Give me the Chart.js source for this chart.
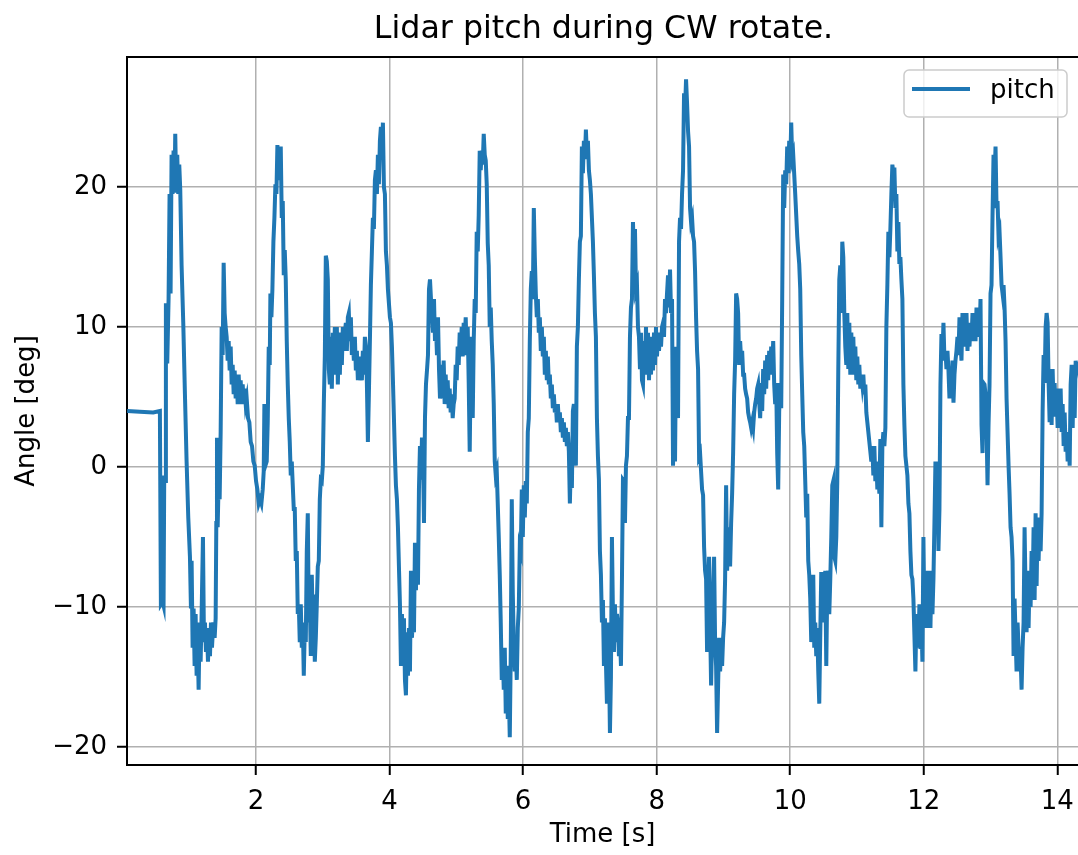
<!DOCTYPE html>
<html>
<head>
    <title>Lidar pitch during CW rotate.</title>
    <script src="https://cdn.jsdelivr.net/npm/chart.js"></script>
    <style>
        body { margin: 0; background: #fff; }
        canvas { display: block; }
    </style>
</head>
<body>
    <canvas id="pitchChart" width="1078" height="855" style="width:1078px;height:855px;"></canvas>

    <script>
        // pitch trace, split into chunks of the run (time in s, angle in deg)
        const timeA = [
            0.07, 0.26, 0.46, 0.56, 0.575, 0.60, 0.615, 0.625, 0.64, 0.65,
            0.67, 0.69, 0.705, 0.72, 0.735, 0.75, 0.765, 0.78, 0.79, 0.805,
            0.82, 0.835, 0.85, 0.865, 0.885, 0.91, 0.935, 0.96, 0.985, 1.01,
            1.025, 1.035, 1.05, 1.065, 1.08, 1.095, 1.11, 1.125, 1.14, 1.155,
            1.17, 1.185, 1.205, 1.22, 1.235, 1.25, 1.265, 1.28, 1.295, 1.31,
            1.325, 1.34, 1.36, 1.38, 1.395, 1.405, 1.415, 1.425, 1.44, 1.455,
            1.47, 1.485, 1.50, 1.515, 1.53, 1.545, 1.56, 1.575, 1.59, 1.605,
            1.62, 1.635, 1.65, 1.665, 1.68, 1.695, 1.71, 1.725, 1.74, 1.755,
            1.77, 1.785, 1.80, 1.815, 1.83, 1.845, 1.86, 1.88, 1.90, 1.92,
            1.94, 1.96, 1.98, 2.00, 2.02, 2.04, 2.06, 2.08, 2.10, 2.115,
            2.125, 2.14, 2.16, 2.175, 2.19, 2.205, 2.215, 2.23, 2.245, 2.26,
            2.275, 2.29, 2.305, 2.32, 2.335, 2.35
        ];
        const pitchA = [
            4.0, 3.95, 3.9, 4.0, -9.8, -9.6, -9.9, -0.6, -1.0, 11.7,
            7.4, 12.0, 19.5, 12.4, 22.3, 19.5, 22.6, 20.2, 23.8, 19.6,
            22.3, 19.5, 21.6, 19.8, 14.4, 10.3, 5.2, 0.4, -3.6, -6.4,
            -10.1, -6.7, -12.9, -10.1, -14.2, -10.5, -14.9, -12.2, -15.9, -11.1,
            -13.9, -10.5, -5.0, -12.5, -11.1, -13.2, -11.5, -13.9, -11.8, -13.5,
            -11.1, -12.9, -11.1, -12.2, -10.8, -4.0, 2.1, -4.3, -1.0, -2.3,
            2.5, 10.0, 8.0, 14.6, 11.0, 10.0, 9.3, 7.6, 9.0, 6.9,
            8.6, 5.9, 7.3, 5.2, 6.9, 4.9, 6.6, 4.5, 6.6, 4.9,
            6.2, 4.5, 5.9, 4.5, 5.6, 4.5, 4.9, 3.5, 3.2, 1.8,
            1.5, 0.4, 0.1, -1.0, -1.6, -2.6, -2.3, -2.6, -1.6, -0.3,
            4.5, 0.1, 0.4, 3.2, 8.6, 7.3, 12.4, 10.7, 12.7, 16.1,
            17.8, 20.2, 19.5, 23.0, 20.5, 21.0
        ];

        const timeB = [
            2.370, 2.385, 2.400, 2.415, 2.430, 2.445, 2.460, 2.475, 2.490, 2.505,
            2.520, 2.535, 2.550, 2.565, 2.580, 2.595, 2.610, 2.625, 2.640, 2.655,
            2.670, 2.685, 2.700, 2.715, 2.730, 2.745, 2.760, 2.775, 2.790, 2.805,
            2.820, 2.835, 2.850, 2.865, 2.880, 2.895, 2.910, 2.925, 2.940, 2.955,
            2.970, 2.985, 3.000, 3.015, 3.030, 3.045, 3.060, 3.075, 3.090, 3.105,
            3.120, 3.135, 3.150, 3.165, 3.180, 3.195, 3.210, 3.225, 3.240, 3.255,
            3.270, 3.285, 3.300, 3.315, 3.330, 3.345, 3.360, 3.375, 3.390, 3.405,
            3.420, 3.435, 3.450, 3.465, 3.480, 3.495, 3.510, 3.525, 3.540, 3.555,
            3.570, 3.585, 3.600, 3.615, 3.630, 3.645, 3.660, 3.675, 3.690, 3.705,
            3.720, 3.735, 3.750, 3.765, 3.780, 3.795, 3.810, 3.825, 3.840, 3.855,
            3.870, 3.885, 3.900, 3.915, 3.930, 3.945, 3.960, 3.975, 3.990, 4.005,
            4.020, 4.035, 4.050, 4.065, 4.080, 4.095, 4.110, 4.125, 4.140, 4.155,
            4.170, 4.185, 4.200, 4.215, 4.230, 4.245, 4.260, 4.275, 4.290, 4.305,
            4.320, 4.335, 4.350, 4.365, 4.380, 4.395, 4.410, 4.425, 4.440, 4.455,
            4.470, 4.485, 4.500, 4.515, 4.530, 4.545, 4.560, 4.575, 4.590, 4.605,
            4.620, 4.635, 4.650, 4.665, 4.680, 4.695, 4.710, 4.725, 4.740, 4.755
        ];
        const pitchB = [
            22.9, 17.8, 19.0, 13.7, 15.5, 13.4, 9.0, 5.9, 3.5, 1.8,
            -0.6, 0.4, -1.3, -3.0, -3.0, -6.7, -6.0, -10.5, -9.8, -12.5,
            -9.8, -12.9, -11.1, -14.9, -11.5, -12.5, -6.0, -3.3, -11.1, -9.4,
            -13.5, -7.7, -11.5, -9.1, -13.9, -12.2, -9.8, -7.1, -6.7, -2.3,
            -0.9, -1.0, 0.1, 4.5, 7.9, 15.1, 14.7, 13.4, 7.0, 5.9,
            9.3, 5.6, 9.6, 6.6, 10.0, 6.6, 10.0, 5.9, 9.3, 6.6,
            9.6, 7.3, 10.0, 8.3, 9.6, 10.3, 8.3, 10.7, 11.0, 9.0,
            10.7, 8.0, 9.0, 7.6, 9.3, 6.9, 8.3, 6.2, 7.9, 6.2,
            7.3, 6.2, 8.3, 6.6, 9.3, 8.6, 6.0, 1.8, 5.2, 9.0,
            13.0, 15.4, 17.8, 17.0, 20.5, 21.2, 19.5, 22.3, 20.2, 23.3,
            24.3, 22.0, 24.6, 20.0, 19.5, 15.4, 14.4, 12.7, 11.7, 10.7,
            10.3, 8.6, 6.2, 3.5, 0.8, -1.3, -2.3, -4.3, -7.1, -9.8,
            -14.2, -10.5, -13.2, -10.8, -15.2, -16.3, -11.8, -14.9, -11.5, -14.6,
            -7.4, -12.2, -10.5, -11.8, -5.4, -8.8, -5.4, -8.4, -1.5, 1.5,
            -0.9, 2.1, 1.0, -4.0, 3.5, 5.9, 6.9, 8.0, 12.7, 13.4,
            12.0, 11.0, 9.6, 12.0, 9.0, 10.0, 8.0, 10.7, 7.0, 4.9
        ];

        const timeC = [
            4.765, 4.780, 4.795, 4.810, 4.825, 4.840, 4.855, 4.870, 4.885, 4.900,
            4.915, 4.930, 4.945, 4.960, 4.975, 4.990, 5.005, 5.020, 5.035, 5.050,
            5.065, 5.080, 5.095, 5.110, 5.125, 5.140, 5.155, 5.170, 5.185, 5.200,
            5.215, 5.230, 5.245, 5.260, 5.275, 5.290, 5.305, 5.320, 5.335, 5.350,
            5.365, 5.380, 5.395, 5.410, 5.425, 5.440, 5.455, 5.470, 5.485, 5.500,
            5.515, 5.530, 5.545, 5.560, 5.575, 5.590, 5.605, 5.620, 5.635, 5.650,
            5.665, 5.680, 5.695, 5.710, 5.725, 5.740, 5.755, 5.770, 5.785, 5.800,
            5.815, 5.830, 5.845, 5.860, 5.875, 5.890, 5.905, 5.920, 5.935, 5.950,
            5.965, 5.980, 5.995, 6.010, 6.025, 6.040, 6.055, 6.070, 6.085, 6.100,
            6.115, 6.130, 6.145, 6.160, 6.175, 6.190, 6.205, 6.220, 6.235, 6.250,
            6.265, 6.280, 6.295, 6.310, 6.325, 6.340, 6.355, 6.370, 6.385, 6.400,
            6.415, 6.430, 6.445, 6.460, 6.475, 6.490, 6.505, 6.520, 6.535, 6.550,
            6.565, 6.580, 6.595, 6.610, 6.625, 6.640, 6.655, 6.670, 6.685, 6.700,
            6.715, 6.730, 6.745, 6.760, 6.775, 6.790, 6.805, 6.820, 6.835, 6.850,
            6.865, 6.880, 6.895, 6.910, 6.925, 6.940, 6.955, 6.970, 6.985, 7.000,
            7.015, 7.030, 7.045, 7.060, 7.075, 7.090, 7.105, 7.120, 7.135
        ];
        const pitchC = [
            5.2, 7.3, 4.9, 7.6, 4.5, 6.6, 4.5, 6.2, 4.2, 5.6,
            3.9, 5.2, 3.5, 4.5, 4.9, 7.3, 6.2, 8.6, 7.3, 9.6,
            8.3, 10.0, 7.9, 10.3, 9.0, 10.7, 8.0, 10.0, 6.0, 1.1,
            7.3, 9.3, 3.5, 9.0, 12.0, 11.0, 16.8, 15.4, 18.0, 22.6,
            21.2, 22.6, 21.6, 23.8, 22.3, 21.9, 20.2, 16.0, 14.4, 10.0,
            11.4, 9.0, 7.3, 4.5, 0.4, -0.6, -0.3, -2.6, -5.0, -7.7,
            -11.1, -15.2, -13.2, -15.9, -12.9, -17.6, -14.2, -18.0, -16.0, -19.3,
            -13.2, -2.3, -9.0, -12.5, -14.6, -13.2, -15.2, -11.5, -10.1, -5.7,
            -6.0, -1.6, -5.0, -1.3, -3.6, -1.0, -2.6, 2.5, 3.5, 9.0,
            12.7, 14.0, 12.0, 18.5, 15.0, 12.4, 10.7, 12.0, 9.6, 10.7,
            8.3, 10.0, 7.9, 9.3, 6.6, 8.3, 6.2, 7.9, 5.9, 6.6,
            4.9, 5.9, 4.2, 5.2, 3.9, 4.5, 3.2, 4.5, 3.2, 3.9,
            2.5, 3.5, 2.1, 3.2, 1.8, 2.8, 1.5, 2.5, 1.1, -2.6,
            0.4, -1.5, 4.0, 4.5, 1.5, 0.1, 8.6, 10.0, 13.4, 16.1,
            16.5, 22.9, 21.0, 23.3, 22.0, 24.1, 22.3, 23.3, 21.2, 20.5,
            19.5, 17.8, 16.1, 13.7, 11.0, 9.3, 3.5, 0.8, -0.9
        ];

        const timeD = [
            7.150, 7.165, 7.180, 7.195, 7.210, 7.225, 7.240, 7.255, 7.270, 7.285,
            7.300, 7.315, 7.330, 7.345, 7.360, 7.375, 7.390, 7.405, 7.420, 7.435,
            7.450, 7.465, 7.480, 7.495, 7.510, 7.525, 7.540, 7.555, 7.570, 7.585,
            7.600, 7.615, 7.630, 7.645, 7.660, 7.675, 7.690, 7.705, 7.720, 7.735,
            7.750, 7.765, 7.780, 7.795, 7.810, 7.825, 7.840, 7.855, 7.870, 7.885,
            7.900, 7.915, 7.930, 7.945, 7.960, 7.975, 7.990, 8.005, 8.020, 8.035,
            8.050, 8.065, 8.080, 8.095, 8.110, 8.125, 8.140, 8.155, 8.170, 8.185,
            8.200, 8.215, 8.230, 8.245, 8.260, 8.275, 8.290, 8.305, 8.320, 8.335,
            8.350, 8.365, 8.380, 8.395, 8.410, 8.425, 8.440, 8.455, 8.470, 8.485,
            8.500, 8.515, 8.530, 8.545, 8.560, 8.575, 8.590, 8.605, 8.620, 8.635,
            8.650, 8.665, 8.680, 8.695, 8.710, 8.725, 8.740, 8.755, 8.770, 8.785,
            8.800, 8.815, 8.830, 8.845, 8.860, 8.875, 8.890, 8.905, 8.920, 8.935,
            8.950, 8.965, 8.980, 8.995, 9.010, 9.025, 9.040, 9.055, 9.070, 9.085,
            9.100, 9.115, 9.130, 9.145, 9.160, 9.175, 9.190, 9.205, 9.220, 9.235,
            9.250, 9.265, 9.280, 9.295, 9.310, 9.325, 9.340, 9.355, 9.370, 9.385,
            9.400, 9.415, 9.430, 9.445, 9.460, 9.475, 9.490, 9.505, 9.520
        ];
        const pitchD = [
            -6.0, -7.7, -11.1, -9.5, -14.2, -10.8, -13.9, -16.9, -11.1, -13.5,
            -19.0, -15.0, -5.0, -10.5, -13.2, -9.8, -12.5, -10.5, -11.1, -13.5,
            -11.8, -14.2, -8.0, -0.9, -1.0, -4.0, 0.1, 0.8, 3.5, 3.5,
            9.3, 11.4, 12.0, 17.5, 15.0, 17.0, 12.7, 13.0, 10.0, 9.3,
            7.0, 9.6, 6.2, 5.9, 9.0, 6.6, 10.0, 6.9, 9.6, 6.2,
            9.3, 6.6, 9.0, 6.9, 9.6, 7.3, 10.0, 7.9, 9.6, 8.3,
            9.6, 8.6, 10.0, 10.3, 9.3, 12.0, 11.0, 12.4, 13.7, 11.4,
            14.1, 11.0, 12.0, 0.1, 4.0, 0.4, 8.6, 5.0, 3.5, 16.1,
            17.8, 17.0, 19.5, 21.2, 26.7, 25.5, 27.7, 26.0, 24.0, 22.9,
            18.5, 17.5, 17.8, 16.5, 16.1, 14.0, 10.7, 8.3, 7.0, 0.8,
            1.0, -0.3, -1.6, -2.0, -5.7, -7.4, -8.0, -13.2, -9.5, -6.4,
            -11.1, -15.6, -12.2, -9.4, -6.4, -12.5, -14.2, -19.0, -15.6, -12.2,
            -14.6, -12.9, -14.2, -12.2, -11.1, -8.0, -1.3, -7.4, -5.4, -4.3,
            -7.1, -4.0, -1.9, 1.0, 5.2, 7.6, 12.4, 12.0, 11.0, 7.3,
            9.0, 7.6, 8.3, 6.6, 6.6, 5.6, 5.2, 4.9, 3.9, 3.5,
            3.2, 2.8, 3.2, 2.8, 3.9, 4.5, 4.9, 5.6, 5.9
        ];

        const timeE = [
            9.550, 9.565, 9.580, 9.595, 9.610, 9.625, 9.640, 9.655, 9.670, 9.685,
            9.700, 9.715, 9.730, 9.745, 9.760, 9.775, 9.790, 9.805, 9.820, 9.835,
            9.850, 9.865, 9.880, 9.895, 9.910, 9.925, 9.940, 9.955, 9.970, 9.985,
            10.000, 10.015, 10.030, 10.045, 10.060, 10.075, 10.090, 10.105, 10.120, 10.135,
            10.150, 10.165, 10.180, 10.195, 10.210, 10.225, 10.240, 10.255, 10.270, 10.285,
            10.300, 10.315, 10.330, 10.345, 10.360, 10.375, 10.390, 10.405, 10.420, 10.435,
            10.450, 10.465, 10.480, 10.495, 10.510, 10.525, 10.540, 10.555, 10.570, 10.585,
            10.600, 10.615, 10.630, 10.645, 10.660, 10.675, 10.690, 10.705, 10.720, 10.735,
            10.750, 10.765, 10.780, 10.795, 10.810, 10.825, 10.840, 10.855, 10.870, 10.885,
            10.900, 10.915, 10.930, 10.945, 10.960, 10.975, 10.990, 11.005, 11.020, 11.035,
            11.050, 11.065, 11.080, 11.095, 11.110, 11.125, 11.140, 11.155, 11.170, 11.185,
            11.200, 11.215, 11.230, 11.245, 11.260, 11.275, 11.290, 11.305, 11.320, 11.335,
            11.350, 11.365, 11.380, 11.395, 11.410, 11.425, 11.440, 11.455, 11.470, 11.485,
            11.500, 11.515, 11.530, 11.545, 11.560, 11.575, 11.590, 11.605, 11.620, 11.635,
            11.650, 11.665, 11.680, 11.695, 11.710, 11.725, 11.740, 11.755, 11.770, 11.785,
            11.800, 11.815, 11.830, 11.845, 11.860, 11.875, 11.890, 11.905, 11.920
        ];
        const pitchE = [
            3.5, 6.0, 4.0, 7.0, 5.2, 7.6, 5.6, 8.0, 6.2, 8.3,
            6.6, 8.6, 7.0, 9.0, 5.9, 4.5, 6.0, 1.0, -1.6, 4.0,
            6.0, 4.2, 12.0, 20.9, 18.5, 21.2, 20.2, 22.9, 21.0, 23.3,
            21.6, 24.6, 22.0, 22.3, 20.9, 19.5, 18.0, 16.5, 15.4, 14.5,
            12.7, 8.0, 5.2, 2.5, 1.5, -1.0, -3.6, -1.9, -6.7, -7.7,
            -9.4, -12.5, -10.8, -7.7, -12.9, -11.1, -13.5, -11.5, -14.6, -16.9,
            -12.0, -7.5, -11.1, -9.0, -10.8, -7.4, -14.2, -8.5, -7.4, -10.5,
            -8.0, -5.0, -1.3, -1.0, -6.4, -6.7, -5.0, -1.0, 7.0, 13.4,
            14.4, 11.0, 16.1, 15.0, 11.0, 8.6, 7.3, 11.0, 7.0, 10.3,
            6.6, 9.6, 6.9, 9.3, 6.6, 8.6, 6.2, 7.9, 5.9, 7.3,
            5.6, 6.6, 5.9, 6.6, 5.2, 5.9, 3.9, 3.2, 2.5, 1.8,
            1.1, 0.4, 1.5, -0.6, 1.5, -1.0, 0.4, -1.6, 0.1, -1.9,
            2.0, -4.3, 1.5, 2.5, 1.5, 2.8, 10.0, 13.0, 16.8, 15.0,
            17.0, 19.5, 21.6, 20.9, 21.4, 18.5, 19.5, 15.4, 17.5, 14.5,
            15.0, 13.4, 12.0, 5.9, 3.0, 0.8, 0.1, -0.6, -2.6, -3.3,
            -6.0, -7.7, -8.0, -9.4, -12.0, -14.6, -10.5, -11.1, -12.9
        ];

        const timeF = [
            11.935, 11.950, 11.965, 11.980, 11.995, 12.010, 12.025, 12.040, 12.055, 12.070,
            12.085, 12.100, 12.115, 12.130, 12.145, 12.160, 12.175, 12.190, 12.205, 12.220,
            12.235, 12.250, 12.265, 12.280, 12.295, 12.310, 12.325, 12.340, 12.355, 12.370,
            12.385, 12.400, 12.415, 12.430, 12.445, 12.460, 12.475, 12.490, 12.505, 12.520,
            12.535, 12.550, 12.565, 12.580, 12.595, 12.610, 12.625, 12.640, 12.655, 12.670,
            12.685, 12.700, 12.715, 12.730, 12.745, 12.760, 12.775, 12.790, 12.805, 12.820,
            12.835, 12.850, 12.865, 12.880, 12.895, 12.910, 12.925, 12.940, 12.955, 12.970,
            12.985, 13.000, 13.015, 13.030, 13.045, 13.060, 13.075, 13.090, 13.105, 13.120,
            13.135, 13.150, 13.165, 13.180, 13.195, 13.210, 13.225, 13.240, 13.255, 13.270,
            13.285, 13.300, 13.315, 13.330, 13.345, 13.360, 13.375, 13.390, 13.405, 13.420,
            13.435, 13.450, 13.465, 13.480, 13.495, 13.510, 13.525, 13.540, 13.555, 13.570,
            13.585, 13.600, 13.615, 13.630, 13.645, 13.660, 13.675, 13.690, 13.705, 13.720,
            13.735, 13.750, 13.765, 13.780, 13.795, 13.810, 13.825, 13.840, 13.855, 13.870,
            13.885, 13.900, 13.915, 13.930, 13.945, 13.960, 13.975, 13.990, 14.005, 14.020,
            14.035, 14.050, 14.065, 14.080, 14.095, 14.110, 14.125, 14.140, 14.155, 14.170,
            14.185, 14.200, 14.215, 14.230, 14.245, 14.260, 14.275, 14.290, 14.310
        ];
        const pitchF = [
            -9.8, -13.0, -11.0, -13.9, -5.0, -11.1, -7.4, -11.5, -7.4, -11.1,
            -7.7, -11.5, -7.4, -10.5, -8.0, -4.0, 0.4, -4.3, 0.4, -6.0,
            -3.0, 5.9, 9.5, 8.0, 10.3, 7.6, 8.3, 7.0, 8.3, 6.9,
            4.9, 7.0, 5.2, 7.6, 4.6, 6.6, 7.6, 8.3, 9.3, 8.0,
            10.7, 9.0, 7.6, 11.0, 8.6, 10.7, 9.0, 11.0, 8.3, 10.0,
            8.6, 10.3, 9.0, 11.0, 9.3, 10.7, 9.0, 11.4, 10.0, 11.2,
            9.3, 12.0, 3.0, 1.0, 6.0, 5.9, 5.2, 3.0, -1.3, 3.0,
            5.9, 12.4, 13.0, 18.0, 22.3, 20.5, 22.9, 18.5, 19.0, 16.5,
            16.8, 15.0, 13.0, 12.4, 13.0, 11.4, 9.0, 4.9, 2.5, 0.1,
            -1.9, -4.3, -5.0, -6.7, -13.5, -9.4, -12.0, -14.6, -11.1, -12.9,
            -14.6, -13.5, -15.9, -12.9, -11.1, -4.3, -9.0, -11.8, -7.4, -11.5,
            -7.7, -10.0, -6.0, -9.0, -4.3, -9.5, -3.3, -8.5, -4.0, -6.7,
            -3.6, -6.0, -3.3, 4.0, 8.0, 6.0, 10.0, 11.0, 10.3, 6.0,
            3.2, 7.0, 3.0, 7.0, 4.2, 6.0, 3.6, 5.2, 2.8, 5.6,
            3.6, 5.6, 2.5, 4.5, 1.5, 3.9, 1.1, 2.5, 0.4, 2.1,
            0.1, 5.9, 7.3, 2.8, 7.3, 3.5, 7.6, 6.9, 7.5
        ];

        const time = [...timeA, ...timeB, ...timeC, ...timeD, ...timeE, ...timeF];
        const pitch = [...pitchA, ...pitchB, ...pitchC, ...pitchD, ...pitchE, ...pitchF];

        const chartTitle = 'Lidar pitch during CW rotate.';
        const xTicks = [2, 4, 6, 8, 10, 12, 14];
        const yTicks = [-20, -10, 0, 10, 20];
        const xRange = [0.0674, 14.31];
        const yRange = [-21.28, 29.29];

        const points = time.map((t, i) => ({x: t, y: pitch[i]}));

        const fmt = v => (v < 0 ? '\u2212' + Math.abs(v) : String(v));

        // title centred over the axes box (as matplotlib does), top spine, legend box
        const decorations = {
            id: 'decorations',
            afterDraw(chart) {
                const {ctx, chartArea: a} = chart;
                const ds = chart.data.datasets[0];
                ctx.save();

                ctx.fillStyle = '#000';
                ctx.font = '31.7px "DejaVu Sans"';
                ctx.textAlign = 'center';
                ctx.textBaseline = 'alphabetic';
                ctx.fillText(chartTitle, (a.left + a.right) / 2 + 1, 38);

                ctx.strokeStyle = '#000';
                ctx.lineWidth = 2;
                ctx.beginPath();
                ctx.moveTo(a.left - 1, a.top);
                ctx.lineTo(a.right + 2, a.top);
                ctx.stroke();

                const w = 163, h = 47;
                const x = a.right - 11 - w, y = a.top + 13;
                ctx.beginPath();
                ctx.roundRect(x, y, w, h, 5);
                ctx.fillStyle = 'rgba(255,255,255,0.8)';
                ctx.fill();
                ctx.strokeStyle = '#cccccc';
                ctx.lineWidth = 1.5;
                ctx.stroke();
                ctx.beginPath();
                ctx.moveTo(x + 8, y + 19);
                ctx.lineTo(x + 66, y + 19);
                ctx.strokeStyle = ds.borderColor;
                ctx.lineWidth = ds.borderWidth;
                ctx.stroke();
                ctx.fillStyle = '#000';
                ctx.font = '26px "DejaVu Sans"';
                ctx.textAlign = 'left';
                ctx.fillText(ds.label, x + 86, y + 28);
                ctx.restore();
            }
        };

        Chart.defaults.font.family = '"DejaVu Sans", sans-serif';
        Chart.defaults.color = '#000';

        new Chart(document.getElementById('pitchChart'), {
            type: 'line',
            data: {
                datasets: [{
                    label: 'pitch',
                    data: points,
                    borderColor: '#1f77b4',
                    borderWidth: 4,
                    pointRadius: 0,
                    tension: 0,
                    fill: false
                }]
            },
            options: {
                responsive: false,
                animation: false,
                devicePixelRatio: 1,
                layout: { padding: { top: 57, left: 0, right: 0, bottom: 0 } },
                plugins: {
                    legend: { display: false },
                    tooltip: { enabled: false },
                    title: { display: false }
                },
                scales: {
                    x: {
                        type: 'linear',
                        min: xRange[0],
                        max: xRange[1],
                        afterBuildTicks: s => { s.ticks = xTicks.map(v => ({value: v})); },
                        afterFit: s => { s.height = 90; s.paddingLeft = 0; s.paddingRight = 0; },
                        ticks: {
                            font: { size: 26 },
                            color: '#000',
                            padding: 12,
                            maxRotation: 0,
                            autoSkip: false,
                            callback: v => fmt(v)
                        },
                        grid: {
                            color: '#b0b0b0',
                            lineWidth: 1.5,
                            tickColor: '#000',
                            tickLength: 10,
                            tickWidth: 2
                        },
                        border: { color: '#000', width: 2 },
                        title: {
                            display: true,
                            text: 'Time [s]',
                            color: '#000',
                            font: { size: 26 },
                            padding: { top: 0, bottom: 4 }
                        }
                    },
                    y: {
                        min: yRange[0],
                        max: yRange[1],
                        afterBuildTicks: s => { s.ticks = yTicks.map(v => ({value: v})); },
                        afterFit: s => { s.width = 127; s.paddingTop = 0; s.paddingBottom = 0; },
                        ticks: {
                            font: { size: 26 },
                            color: '#000',
                            padding: 10,
                            autoSkip: false,
                            callback: v => fmt(v)
                        },
                        grid: {
                            color: '#b0b0b0',
                            lineWidth: 1.5,
                            tickColor: '#000',
                            tickLength: 10,
                            tickWidth: 2
                        },
                        border: { color: '#000', width: 2 },
                        title: {
                            display: true,
                            text: 'Angle [deg]',
                            color: '#000',
                            font: { size: 26 },
                            padding: { top: 12, bottom: 0 }
                        }
                    }
                }
            },
            plugins: [decorations]
        });
    </script>
</body>
</html>
